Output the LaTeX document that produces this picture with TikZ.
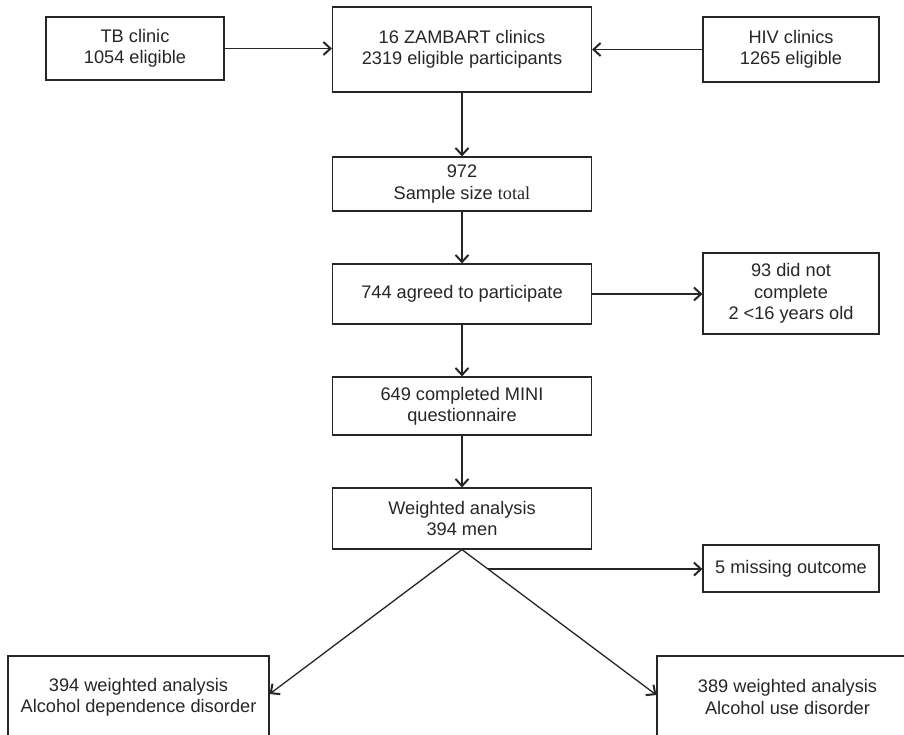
\documentclass[tikz,border=0pt]{standalone}
\usepackage{fontspec}
\setmainfont{Liberation Sans}
\newfontfamily\serifpart{Liberation Serif}
\usetikzlibrary{arrows.meta,calc}
\colorlet{ink}{black!85}
\tikzset{
  box/.style={draw=ink, line width=1.2pt, align=center, inner sep=0pt,
    font=\fontsize{18.2}{21.4}\selectfont, text=ink},
  arr/.style={draw=ink, line width=1.3pt,
    -{Straight Barb[length=7pt,width=13pt,line width=2pt]}}
}
\begin{document}
\begin{tikzpicture}[x=1pt,y=-1pt]
\useasboundingbox (0,0) rectangle (904,734);
\clip (0,0) rectangle (904,734);
\node[box, minimum width=178pt, minimum height=63pt] (tb) at (135,48.5) {TB clinic\\1054 eligible};
\node[box, minimum width=259pt, minimum height=85pt] (zam) at (462,49.5) {16 ZAMBART clinics\\2319 eligible participants};
\node[box, minimum width=176pt, minimum height=65pt] (hiv) at (791,49.5) {HIV clinics\\1265 eligible};
\node[box, minimum width=259pt, minimum height=54pt] (s972) at (462,184) {972\\Sample size {\serifpart total}};
\node[box, minimum width=259pt, minimum height=60pt] (agreed) at (462,294) {744 agreed to participate};
\node[box, minimum width=176pt, minimum height=81pt] (dnc) at (791,293.5) {93 did not\\complete\\2 <16 years old};
\node[box, minimum width=259pt, minimum height=58pt] (mini) at (462,406) {649 completed MINI\\questionnaire};
\node[box, minimum width=259pt, minimum height=61pt] (wa) at (462,518.5) {Weighted analysis\\394 men};
\node[box, minimum width=176pt, minimum height=47pt] (miss) at (791,568.5) {5 missing outcome};
\node[box, minimum width=261pt, minimum height=82pt] (adep) at (138.5,697) {394 weighted analysis\\Alcohol dependence disorder};
\node[box, minimum width=261pt, minimum height=82pt] (ause) at (787.5,697) {389 weighted analysis\\Alcohol use disorder};
\draw[arr] (tb.east) -- (zam.west |- tb.east);
\draw[arr] (hiv.west) -- (zam.east |- hiv.west);
\draw[arr] (zam.south) -- (s972.north);
\draw[arr] (s972.south) -- (agreed.north);
\draw[arr] (agreed.east) -- (dnc.west |- agreed.east);
\draw[arr] (agreed.south) -- (mini.north);
\draw[arr] (mini.south) -- (wa.north);
\draw[arr] (wa.south) -- ([yshift=3pt]adep.east);
\draw[arr] (wa.south) -- ([yshift=2pt]ause.west);
\coordinate (br) at ($(wa.south)!0.134!([yshift=2pt]ause.west)$);
\draw[arr] (br) -- (br -| miss.west);
\end{tikzpicture}
\end{document}
